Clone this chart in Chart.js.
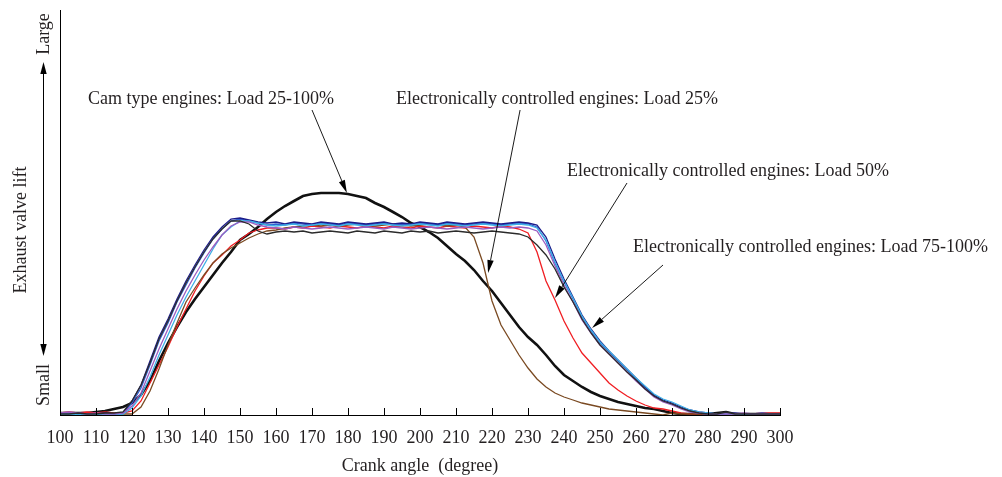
<!DOCTYPE html>
<html><head><meta charset="utf-8">
<script src="https://cdn.jsdelivr.net/npm/chart.js@4/dist/chart.umd.min.js"></script>
<style>
html,body{margin:0;padding:0;background:#fff;}
#wrap{position:relative;width:1002px;height:477px;overflow:hidden;background:#fff;}
canvas{position:absolute;left:0;top:0;}
.t{position:absolute;font-family:'Liberation Serif','Times New Roman',serif;font-size:18px;color:#231f20;white-space:pre;line-height:1;}
.r{transform:translate(-50%,-50%) rotate(-90deg);}
.a{transform:translateY(-50%);}
</style></head><body>
<div id="wrap"><canvas id="c" width="1002" height="477"></canvas>
<div class="t a" style="left:88px;top:98px">Cam type engines: Load 25-100%</div>
<div class="t a" style="left:396px;top:98px">Electronically controlled engines: Load 25%</div>
<div class="t a" style="left:567px;top:170px">Electronically controlled engines: Load 50%</div>
<div class="t a" style="left:633px;top:246px">Electronically controlled engines: Load 75-100%</div>
<div class="t r" style="left:43px;top:34px">Large</div>
<div class="t r" style="left:43px;top:385px">Small</div>
<div class="t r" style="left:20px;top:230px">Exhaust valve lift</div>
</div>
<script>
// Crank angle (degree)
const angles = [
 100,102.5,105,107.5,110,112.5,115,117.5,120,122.5,
 125,127.5,130,132.5,135,137.5,140,142.5,145,147.5,
 150,152.5,155,157.5,160,162.5,165,167.5,170,172.5,
 175,177.5,180,182.5,185,187.5,190,192.5,195,197.5,
 200,202.5,205,207.5,210,212.5,215,217.5,220,222.5,
 225,227.5,230,232.5,235,237.5,240,242.5,245,247.5,
 250,252.5,255,257.5,260,262.5,265,267.5,270,272.5,
 275,277.5,280,282.5,285,287.5,290,292.5,295,297.5,
 300];
const xTickValues = [100,110,120,130,140,150,160,170,180,190,200,210,220,230,240,250,260,270,280,290,300];

// Exhaust valve lift (relative units)
const camLift = [
 2,2,2,2,3,4,6,8,12,20,
 34,54,72,88,103,116,128,140,152,163,
 175,181,188,196,203,209,214,219,221,222,
 222,222,221,219,217,212,208,203,198,192,
 188,183,177,169,161,154,145,134,124,112,
 100,88,78,70,60,49,40,34,28,23,
 19,16,13,11,9,7,6,4,2,1,
 1,1,1,2,3,1,1,1,1,1,
 1];
const ecBlue = [
 1,2,1,0,1,0,1,2,12,27,
 50,74,92,113,130,147,162,176,186,194,
 196,194,192,190,191,190,192,191,190,192,
 191,190,192,191,190,191,192,190,191,190,
 192,191,190,192,191,190,191,192,191,190,
 191,192,191,188,174,152,133,116,98,84,
 72,63,54,45,36,27,19,14,11,7,
 4,2,1,1,2,1,1,1,2,1,
 1];
const ecNavy = [
 2,1,2,1,1,2,1,2,14,30,
 54,78,96,116,134,150,165,178,188,196,
 197,195,193,192,193,191,193,192,191,193,
 192,191,193,192,191,192,193,191,192,191,
 193,192,191,193,192,191,192,193,192,191,
 192,193,192,190,178,156,136,118,100,86,
 74,64,55,46,37,28,20,15,12,8,
 5,3,2,1,1,2,1,1,1,1,
 1];
const ecPurple = [
 2,3,2,1,2,1,1,2,9,22,
 44,66,86,106,124,140,155,168,180,189,
 193,193,190,188,187,186,188,187,186,187,
 188,187,186,187,188,187,186,188,187,186,
 187,188,187,186,187,188,187,186,187,188,
 187,188,187,184,170,149,130,113,95,82,
 70,61,52,43,34,26,18,13,10,6,
 3,2,1,1,1,1,2,1,1,1,
 1];
const ecCyan = [
 1,1,0,1,0,1,0,1,7,19,
 38,60,80,100,118,134,150,166,180,188,
 194,194,192,190,189,190,191,189,190,191,
 190,189,191,190,189,190,191,190,189,190,
 191,190,189,191,190,189,190,191,190,189,
 190,191,190,187,175,153,134,117,99,85,
 73,64,55,46,37,29,21,16,13,9,
 5,3,2,1,1,1,1,1,1,1,
 1];
const ecBlack = [
 1,1,2,1,1,2,2,3,14,30,
 52,76,94,114,132,148,163,176,186,194,
 194,191,184,181,183,184,183,184,182,183,
 184,183,182,184,183,182,184,183,182,184,
 183,184,182,183,184,183,182,183,184,183,
 182,181,178,170,160,146,128,113,96,82,
 70,61,52,43,35,26,19,14,11,7,
 4,2,1,1,3,1,1,1,1,1,
 1];
const ec50Red = [
 2,3,2,3,2,3,2,2,4,14,
 32,50,68,88,106,124,139,152,160,169,
 175,182,185,187,187,186,188,187,189,188,
 187,189,188,187,189,188,187,189,188,187,
 189,188,187,189,188,187,189,188,187,189,
 188,186,182,163,134,115,94,77,62,52,
 42,32,25,19,14,10,7,6,4,2,
 1,1,1,1,1,1,1,1,2,2,
 2];
const ec25Brown = [
 1,1,1,1,1,1,1,1,1,8,
 24,46,70,92,113,127,140,152,161,167,
 172,177,181,184,185,187,188,189,190,189,
 190,189,190,191,190,189,190,191,190,189,
 190,191,190,189,190,188,178,152,114,90,
 75,60,47,36,28,22,18,15,12,10,
 8,6,5,4,3,2,1,0,2,1,
 1,1,1,1,1,1,1,1,1,1,
 1];

// Annotation arrows: [tailAngle, tailLift, tipAngle, tipLift]
const annotArrows = [
 [170, 305, 179.7, 222],
 [227.8, 305, 218.9, 142],
 [257.5, 232, 237.5, 117],
 [267.5, 150, 247.8, 87]
];

const pts = v => v.map((y,i)=>({x:angles[i], y}));
const thin = (label, data, color) => ({label, data: pts(data), borderColor: color, borderWidth: 1.3, pointRadius: 0, fill: false, tension: 0});

function drawArrow(ctx, x1, y1, x2, y2, len, w){
  const ang = Math.atan2(y2-y1, x2-x1);
  const bx = x2 - len*Math.cos(ang), by = y2 - len*Math.sin(ang);
  ctx.beginPath(); ctx.moveTo(x1,y1); ctx.lineTo(bx,by); ctx.stroke();
  ctx.beginPath();
  ctx.moveTo(x2,y2);
  ctx.lineTo(bx + w*Math.sin(ang), by - w*Math.cos(ang));
  ctx.lineTo(bx - w*Math.sin(ang), by + w*Math.cos(ang));
  ctx.closePath(); ctx.fill();
}

const extras = {
  id: 'extras',
  afterDraw(chart){
    const {ctx, scales:{x, y}, chartArea} = chart;
    ctx.save();
    ctx.strokeStyle = '#000'; ctx.fillStyle = '#000'; ctx.lineWidth = 1;
    // inward tick marks
    xTickValues.forEach(v => {
      const px = Math.round(x.getPixelForValue(v)) + 0.5;
      ctx.beginPath(); ctx.moveTo(px, chartArea.bottom); ctx.lineTo(px, chartArea.bottom - 7); ctx.stroke();
    });
    // annotation arrows
    ctx.lineWidth = 0.9;
    annotArrows.forEach(a => {
      drawArrow(ctx, x.getPixelForValue(a[0]), y.getPixelForValue(a[1]), x.getPixelForValue(a[2]), y.getPixelForValue(a[3]), 13, 3.2);
    });
    // lift double arrow at the side
    ctx.lineWidth = 1;
    drawArrow(ctx, 43.5, 210, 43.5, 62, 12, 3.2);
    drawArrow(ctx, 43.5, 210, 43.5, 356, 12, 3.2);
    ctx.restore();
  }
};

const serif = "'Liberation Serif', 'Times New Roman', serif";
new Chart(document.getElementById('c'), {
  type: 'line',
  data: {
    datasets: [
      thin('EC 75-100% (a)', ecBlack, '#2b2b2b'),
      thin('EC 75-100% (b)', ecPurple, '#9a5cc0'),
      thin('EC 75-100% (c)', ecCyan, '#3fb0e6'),
      thin('EC 75-100% (d)', ecNavy, '#1c1c8a'),
      thin('EC 75-100% (e)', ecBlue, '#2f5fd0'),
      thin('EC 25%', ec25Brown, '#7a4a22'),
      thin('EC 50%', ec50Red, '#f01e23'),
      {label:'Cam 25-100%', data: pts(camLift), borderColor:'#111', borderWidth: 2.6, pointRadius: 0, fill:false, tension:0}
    ]
  },
  options: {
    responsive: false,
    devicePixelRatio: 1,
    animation: false,
    events: [],
    layout: {padding: {top: 10, right: 222, left: 0, bottom: 0}},
    plugins: {legend: {display: false}, tooltip: {enabled: false}},
    scales: {
      x: {
        type: 'linear', min: 100, max: 300,
        afterBuildTicks: s => { s.ticks = xTickValues.map(v => ({value: v})); },
        afterFit: s => { s.height = 62; },
        grid: {display: false, drawTicks: false},
        border: {display: true, color: '#000', width: 1},
        ticks: {color: '#231f20', padding: 12, maxRotation: 0, autoSkip: false,
                font: {family: serif, size: 18}},
        title: {display: true, text: 'Crank angle  (degree)', color: '#231f20',
                font: {family: serif, size: 18},
                padding: {top: 0, bottom: 0}}
      },
      y: {
        type: 'linear', min: 0, max: 405,
        afterFit: s => { s.width = 60; },
        grid: {display: false, drawTicks: false},
        border: {display: true, color: '#000', width: 1},
        ticks: {display: false}
      }
    }
  },
  plugins: [extras]
});
</script>
</body></html>
